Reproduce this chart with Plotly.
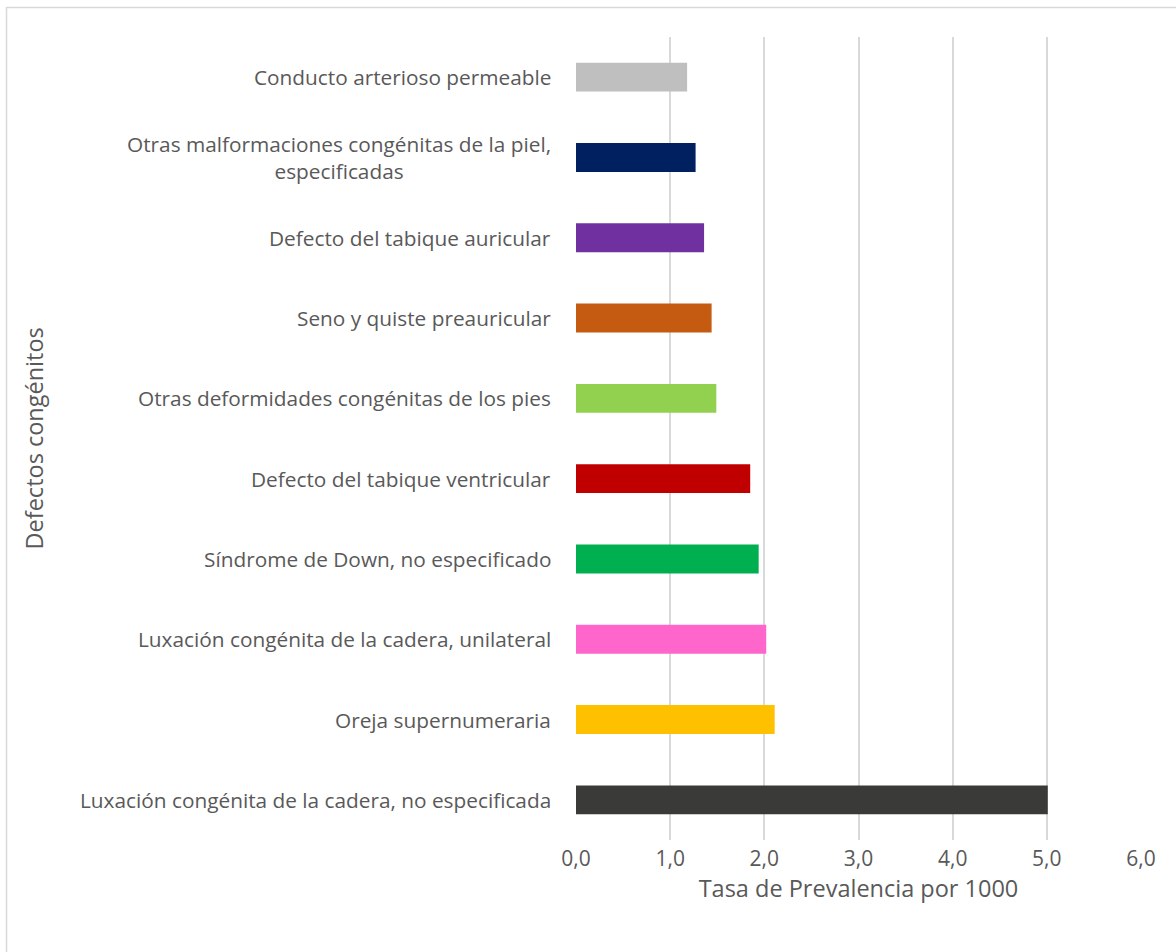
import plotly.graph_objects as go

# Congenital defects, bottom-to-top order as drawn on the category axis
categories = [
    "Luxación congénita de la cadera, no especificada",
    "Oreja supernumeraria",
    "Luxación congénita de la cadera, unilateral",
    "Síndrome de Down, no especificado",
    "Defecto del tabique ventricular",
    "Otras deformidades congénitas de los pies",
    "Seno y quiste preauricular",
    "Defecto del tabique auricular",
    "Otras malformaciones congénitas de la piel,<br>especificadas",
    "Conducto arterioso permeable",
]
prevalence = [5.01, 2.11, 2.02, 1.94, 1.85, 1.49, 1.44, 1.36, 1.27, 1.18]
bar_colors = [
    "#3A3A38", "#FFC000", "#FF66CC", "#00B050", "#C00000",
    "#92D050", "#C55A11", "#7030A0", "#002060", "#BFBFBF",
]
x_ticks = [0, 1, 2, 3, 4, 5, 6]

W, H = 1176, 952
L, R, T, B = 575.5, 35, 37, 112
FONT = "Open Sans"
TXT = "#595959"

fig = go.Figure(
    go.Bar(
        x=prevalence,
        y=categories,
        orientation="h",
        marker=dict(color=bar_colors, line=dict(width=0)),
        hoverinfo="x+y",
    )
)

# Category labels, right-aligned to the axis, centred within each label block
for cat in categories:
    fig.add_annotation(
        x=0, y=cat, xref="x", yref="y",
        text=cat, showarrow=False,
        xanchor="right", yanchor="middle", align="center",
        xshift=-23,
        font=dict(family=FONT, size=20.8, color=TXT),
    )

# Outer chart frame
pw, ph = W - L - R, H - T - B
def px_x(p):
    return (p - L) / pw
def px_y(p):
    return 1 - (p - T) / ph
fig.add_shape(
    type="rect", xref="paper", yref="paper",
    x0=px_x(5.5), x1=px_x(W + 5), y0=px_y(H + 5), y1=px_y(7.5),
    line=dict(color="#D9D9D9", width=1.5), fillcolor="rgba(0,0,0,0)",
    layer="below",
)

fig.update_layout(
    width=W, height=H,
    margin=dict(l=L, r=R, t=T, b=B, pad=0),
    paper_bgcolor="white", plot_bgcolor="white",
    bargap=0.64,
    showlegend=False,
    separators=",.",
    font=dict(family=FONT, color=TXT),
    xaxis=dict(
        range=[0, 6],
        tickvals=x_ticks,
        tickformat=".1f",
        showgrid=True, gridcolor="#D9D9D9", gridwidth=1.5,
        zeroline=False, showline=False,
        ticks="", ticklabelstandoff=4,
        tickfont=dict(family=FONT, size=21, color=TXT),
        title=dict(text="Tasa de Prevalencia por 1000",
                   font=dict(family=FONT, size=23.5, color=TXT), standoff=8),
        fixedrange=True,
    ),
    yaxis=dict(
        showticklabels=False, showgrid=False, zeroline=False, showline=False,
        ticks="",
        fixedrange=True,
    ),
)

# Vertical axis title placed near the left frame
fig.add_annotation(
    x=px_x(33), y=0.5, xref="paper", yref="paper",
    text="Defectos congénitos", textangle=-90, showarrow=False,
    xanchor="center", yanchor="middle",
    font=dict(family=FONT, size=23.5, color=TXT),
)

fig.write_html("out.html")
